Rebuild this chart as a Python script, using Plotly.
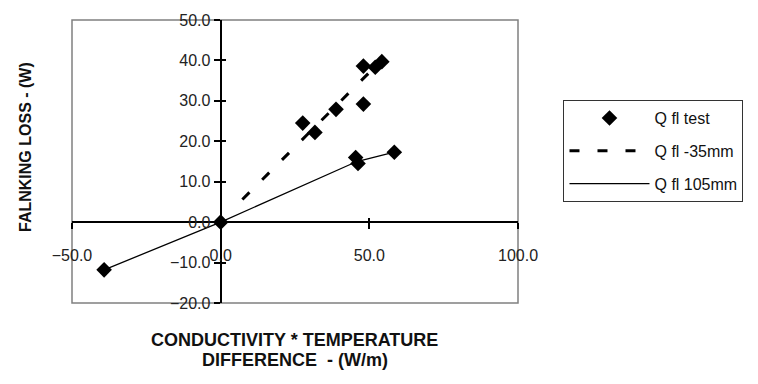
import plotly.graph_objects as go

# ---- data ----
test_x = [-39.2, 0.0, 27.6, 31.7, 38.8, 48.0, 48.0, 52.0, 54.2, 45.4, 46.2, 58.4]
test_y = [-11.8, 0.0, 24.5, 22.2, 27.9, 29.2, 38.6, 38.3, 39.7, 16.0, 14.5, 17.3]

fl35_x = [7.3, 49.7]
fl35_y = [5.6, 36.8]

fl105_x = [-39.2, 0.0, 45.8, 58.4]
fl105_y = [-11.8, 0.0, 15.0, 17.3]

x_ticks = [-50, 0, 50, 100]
y_ticks = [-20, -10, 0, 10, 20, 30, 40, 50]

names = ["Q fl test", "Q fl -35mm", "Q fl 105mm"]

FONT = "Arial, Liberation Sans, sans-serif"

fig = go.Figure()
fig.add_trace(go.Scatter(x=test_x, y=test_y, mode="markers", name=names[0],
                         legendgroup="a",
                         marker=dict(symbol="diamond", size=12, color="black")))
fig.add_trace(go.Scatter(x=fl35_x, y=fl35_y, mode="lines", name=names[1],
                         legendgroup="b",
                         line=dict(color="black", width=3, dash="10px,18px")))
fig.add_trace(go.Scatter(x=fl105_x, y=fl105_y, mode="lines", name=names[2],
                         legendgroup="c",
                         line=dict(color="black", width=1.3)))
# helper trace so the overlay axes (inner half of cross ticks) are drawn
fig.add_trace(go.Scatter(x=[None], y=[None], xaxis="x2", yaxis="y2",
                         showlegend=False, hoverinfo="skip"))

xr = [-50, 100]
yr = [-20, 50]
y0_frac = (0 - yr[0]) / (yr[1] - yr[0])
x0_frac = (0 - xr[0]) / (xr[1] - xr[0])

common = dict(showgrid=False, zeroline=False, tickfont=dict(family=FONT, size=16, color="#222"))

fig.update_layout(
    width=758, height=384,
    margin=dict(l=72, r=240, t=15, b=81),
    paper_bgcolor="white", plot_bgcolor="white",
    showlegend=True,
    xaxis=dict(range=xr, domain=[0, 1], anchor="free", position=y0_frac,
               tickvals=x_ticks, tickformat=".1f", showline=True, linecolor="black",
               linewidth=2, ticks="outside", ticklen=6, tickwidth=1.5, tickcolor="black",
               ticklabelstandoff=13, **common),
    yaxis=dict(range=yr, domain=[0, 1], anchor="free", position=x0_frac,
               tickvals=y_ticks, tickformat=".1f", showline=True, linecolor="black",
               linewidth=2, ticks="outside", ticklen=6, tickwidth=1.5, tickcolor="black",
               **common),
    xaxis2=dict(range=xr, overlaying="x", anchor="free", position=y0_frac, side="bottom",
                tickvals=x_ticks, showticklabels=False, showline=False, ticks="inside",
                ticklen=4, tickwidth=1.5, tickcolor="black", showgrid=False, zeroline=False),
    yaxis2=dict(range=yr, overlaying="y", anchor="free", position=x0_frac, side="left",
                tickvals=y_ticks, showticklabels=False, showline=False, ticks="inside",
                ticklen=4, tickwidth=1.5, tickcolor="black", showgrid=False, zeroline=False),
    legend=dict(x=1.102, y=0.717, xanchor="left", yanchor="top",
                bordercolor="#333", borderwidth=1, bgcolor="white",
                font=dict(family=FONT, size=16, color="#111"),
                itemwidth=80, tracegroupgap=9),
    shapes=[dict(type="rect", xref="paper", yref="paper", x0=0, x1=1, y0=0, y1=1,
                 line=dict(color="#808080", width=1.5), layer="below")],
    annotations=[
        dict(text="<b>FALNKING LOSS - (W)</b>", xref="paper", yref="paper",
             x=-0.104, y=0.55, textangle=-90, showarrow=False,
             xanchor="center", yanchor="middle",
             font=dict(family=FONT, size=16, color="#111")),
        dict(text="<b>CONDUCTIVITY * TEMPERATURE</b>", xref="paper", yref="paper",
             x=0.499, y=(303 - 341) / 288, showarrow=False,
             xanchor="center", yanchor="middle",
             font=dict(family=FONT, size=18, color="#111")),
        dict(text="<b>DIFFERENCE  - (W/m)</b>", xref="paper", yref="paper",
             x=0.499, y=(303 - 361) / 288, showarrow=False,
             xanchor="center", yanchor="middle",
             font=dict(family=FONT, size=18, color="#111")),
    ],
)

fig.write_html("out.html")
